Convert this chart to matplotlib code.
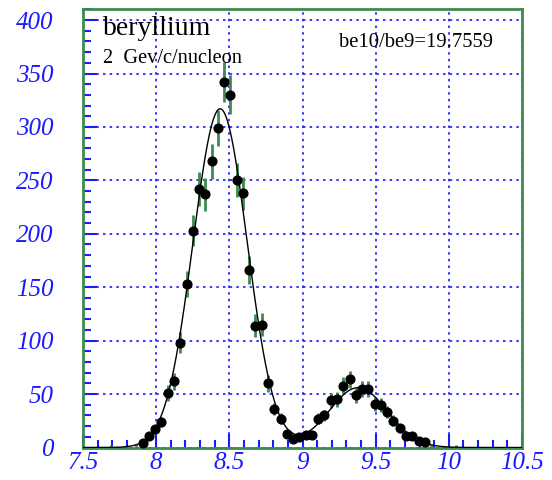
import numpy as np
import matplotlib
matplotlib.use('Agg')
import matplotlib.pyplot as plt
from matplotlib.ticker import MultipleLocator

# histogram: 70 bins between 7.5 and 10.5
x_lo, x_hi, nbins = 7.5, 10.5, 70
counts = [0, 0, 0, 0, 1, 0, 0, 0, 2, 4,
          11, 17, 24, 51, 62, 98, 153, 203, 242, 237,
          268, 299, 342, 330, 250, 238, 166, 114, 115, 60,
          36, 27, 13, 8, 10, 12, 12, 27, 30, 44,
          45, 58, 64, 49, 55, 55, 41, 40, 33, 25,
          18, 11, 11, 6, 5, 1, 0, 0, 0, 1,
          0, 0, 0, 0, 0, 0, 0, 0, 0, 0]

# double gaussian fit (be10 peak, be9 peak)
amp = [317.0, 56.0]
mean = [8.437, 9.38]
sigma = [0.185, 0.20]

title = 'beryllium'
subtitle = '2  Gev/c/nucleon'
ratio_text = 'be10/be9=19.7559'

width = (x_hi - x_lo) / nbins
centers = x_lo + (np.arange(nbins) + 0.5) * width
counts = np.array(counts, dtype=float)
errs = np.sqrt(counts)

fig = plt.figure(figsize=(5.52, 4.8), dpi=100)
ax = fig.add_axes([0.1504, 0.0677, 0.7953, 0.9127])

green = '#3d8b4f'
blue = '#1a1aff'

filled = counts > 0
ax.errorbar(centers[filled], counts[filled], yerr=errs[filled], fmt='none',
            ecolor=green, elinewidth=2, capsize=0, zorder=3)
big = counts >= 3
ax.plot(centers[big], counts[big], 'o', color='black', markersize=6.3, zorder=4)

xf = np.linspace(x_lo, x_hi, 600)
yf = sum(a * np.exp(-0.5 * ((xf - m) / s) ** 2) for a, m, s in zip(amp, mean, sigma))
ax.plot(xf, yf, color='black', linewidth=1.0, zorder=3)

ax.set_xlim(x_lo, x_hi)
ax.set_ylim(0, 410)
ax.xaxis.set_minor_locator(MultipleLocator(0.1))
ax.yaxis.set_major_locator(MultipleLocator(50))
ax.yaxis.set_minor_locator(MultipleLocator(10))
ax.set_xticks([7.5, 8, 8.5, 9, 9.5, 10, 10.5])
ax.set_xticklabels(['7.5', '8', '8.5', '9', '9.5', '10', '10.5'])

ax.tick_params(which='both', direction='in', color=blue, width=1.5,
               top=False, right=False)
ax.tick_params(which='major', length=10)
ax.tick_params(which='minor', length=6)
ax.tick_params(axis='x', pad=3)
ax.tick_params(axis='y', pad=21)
for lab in ax.get_xticklabels() + ax.get_yticklabels():
    lab.set_fontfamily('Liberation Serif')
    lab.set_fontstyle('italic')
    lab.set_fontsize(18)
    lab.set_color(blue)

ax.grid(True, which='major', color=blue, linestyle=(0, (1.5, 2.5)), linewidth=1.2)
ax.set_axisbelow(True)
for sp in ax.spines.values():
    sp.set_color(green)
    sp.set_linewidth(2)

ax.text(103 / 552, 1 - 35 / 480, title, transform=fig.transFigure,
        fontfamily='Liberation Serif', fontsize=20, va='baseline')
ax.text(103 / 552, 1 - 63 / 480, subtitle, transform=fig.transFigure,
        fontfamily='Liberation Serif', fontsize=14.7, va='baseline')
ax.text(339 / 552, 1 - 47 / 480, ratio_text, transform=fig.transFigure,
        fontfamily='Liberation Serif', fontsize=14.9, va='baseline')

fig.savefig('out.png', dpi=100)
